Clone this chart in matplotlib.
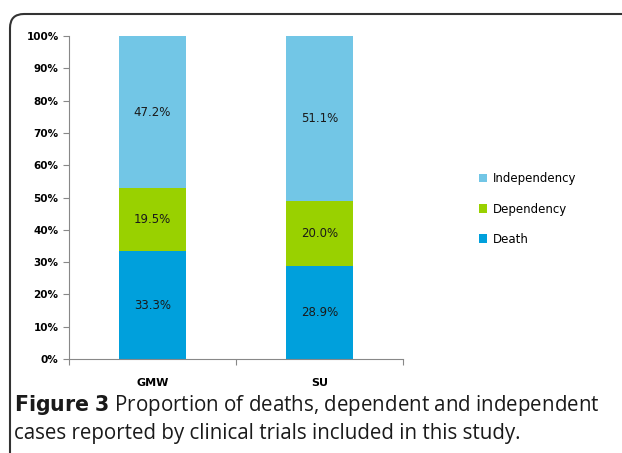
import matplotlib
matplotlib.use("Agg")
from matplotlib import pyplot as plt
from matplotlib.patches import FancyBboxPatch
from matplotlib.ticker import PercentFormatter
import numpy as np

groups = ['GMW', 'SU']
death = [33.3, 28.9]
dependency = [19.5, 20.0]
independency = [47.2, 51.1]

c_death = '#00A0DC'
c_dep = '#99D100'
c_indep = '#72C6E6'


def main():
    fig = plt.figure(figsize=(6.22, 4.53), dpi=100)

    # rounded frame around chart (runs off the right/bottom edge), in pixels
    frame = FancyBboxPatch((10, -100), 800, 453 - 14 + 100,
                           boxstyle='round,pad=0,rounding_size=14',
                           transform=None, fill=False,
                           edgecolor='#333333', linewidth=1.5)
    fig.patches.append(frame)

    ax = fig.add_axes([69 / 622, 1 - 359 / 453, 334 / 622, 323 / 453])
    x = np.arange(len(groups))
    w = 0.4
    d = np.array(death)
    dp = np.array(dependency)
    ip = np.array(independency)
    ax.bar(x, d, w, color=c_death, label='Death')
    ax.bar(x, dp, w, bottom=d, color=c_dep, label='Dependency')
    ax.bar(x, ip, w, bottom=d + dp, color=c_indep, label='Independency')

    for i in range(len(groups)):
        for bottom, val in [(0, d[i]), (d[i], dp[i]), (d[i] + dp[i], ip[i])]:
            ax.text(x[i], bottom + val / 2, f'{val:.1f}%', ha='center',
                    va='center', fontsize=8.5, color='#1a1a1a')

    ax.set_xlim(-0.5, 1.5)
    ax.set_ylim(0, 100)
    ax.set_yticks(np.arange(0, 101, 10))
    ax.yaxis.set_major_formatter(PercentFormatter(decimals=0))
    ax.set_xticks([-0.5, 0.5, 1.5])
    ax.set_xticklabels([])
    ax.set_xticks(x, minor=True)
    ax.set_xticklabels(groups, minor=True, fontsize=8, fontweight='bold')
    ax.tick_params(axis='x', which='minor', length=0, pad=14)
    ax.tick_params(axis='x', which='major', length=4, color='#888888')
    ax.tick_params(axis='y', length=4, color='#888888', labelsize=7.5)
    for lab in ax.get_yticklabels():
        lab.set_fontweight('bold')
    for s in ['top', 'right']:
        ax.spines[s].set_visible(False)
    ax.spines['left'].set_color('#888888')
    ax.spines['bottom'].set_color('#888888')

    h, l = ax.get_legend_handles_labels()
    fig.legend(h[::-1], l[::-1], loc='center left',
               bbox_to_anchor=(468 / 622, 1 - 209 / 453), frameon=False,
               fontsize=8.5, handlelength=0.7, handleheight=0.7,
               labelspacing=1.45, handletextpad=0.5)

    fig.text(14 / 622, 1 - 411 / 453,
             r'$\bf{Figure\ 3}$ Proportion of deaths, dependent and independent',
             fontsize=14.8, family='Open Sans', va='baseline', color='#1a1a1a')
    fig.text(14 / 622, 1 - 439 / 453,
             'cases reported by clinical trials included in this study.',
             fontsize=14.8, family='Open Sans', va='baseline', color='#1a1a1a')

    fig.savefig('out.png', dpi=100)


if __name__ == "__main__":
    main()
